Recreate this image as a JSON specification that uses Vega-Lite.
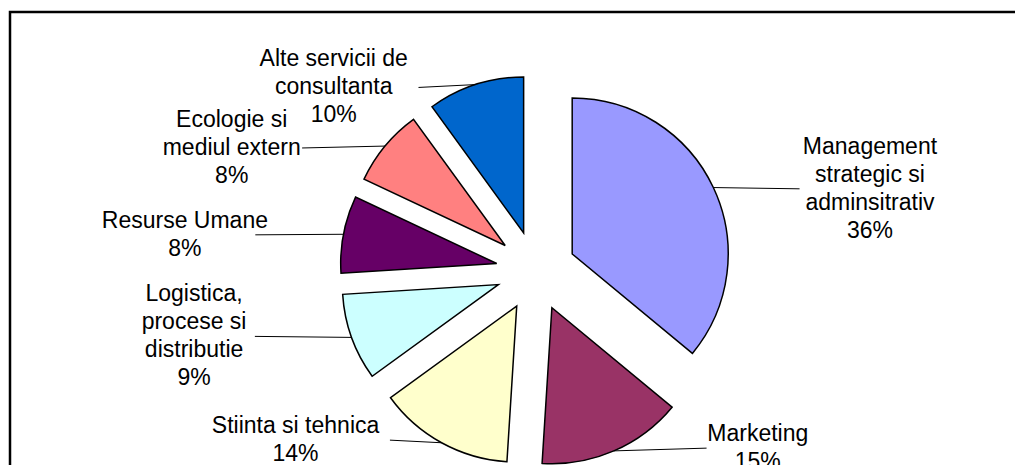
{
  "$schema": "https://vega.github.io/schema/vega-lite/v6.json",
  "width": 1045,
  "height": 493,
  "autosize": {"type": "none"},
  "padding": {"left": 10, "top": 12, "right": -40, "bottom": -40},
  "background": "white",
  "config": {
    "view": {"stroke": "black", "strokeWidth": 2.5},
    "text": {"font": "Liberation Sans"}
  },
  "data": {
    "values": [
      {"k": 1, "cat": "Management\nstrategic si\nadminsitrativ", "pct": 36},
      {"k": 2, "cat": "Marketing", "pct": 15},
      {"k": 3, "cat": "Stiinta si tehnica", "pct": 14},
      {"k": 4, "cat": "Logistica,\nprocese si\ndistributie", "pct": 9},
      {"k": 5, "cat": "Resurse Umane", "pct": 8},
      {"k": 6, "cat": "Ecologie si\nmediul extern", "pct": 8},
      {"k": 7, "cat": "Alte servicii de\nconsultanta", "pct": 10}
    ]
  },
  "transform": [
    {"stack": "pct", "groupby": [], "sort": [{"field": "k", "order": "ascending"}], "as": ["v0", "v1"]},
    {"calculate": "PI * (datum.v0 + datum.v1) / 100", "as": "mid"},
    {"calculate": "sin(datum.mid)", "as": "s"},
    {"calculate": "cos(datum.mid)", "as": "c"},
    {"calculate": "40 * datum.s", "as": "ex"},
    {"calculate": "-40 * datum.c", "as": "ey"},
    {"calculate": "(datum.s > 0 ? 134 : -134) + 221 * datum.s", "as": "lx"},
    {"calculate": "-193 * datum.c", "as": "ly"},
    {"calculate": "196 * datum.s", "as": "p1x"},
    {"calculate": "-196 * datum.c", "as": "p1y"},
    {"calculate": "split(datum.cat, '\\n')", "as": "lines"},
    {"calculate": "datum.ly - length(datum.lines) * 14", "as": "ty"},
    {"calculate": "max(length(datum.lines[0]), length(datum.lines[1] || ''), length(datum.lines[2] || ''))", "as": "nch"},
    {"calculate": "datum.lx - (datum.s > 0 ? 1 : -1) * (datum.nch * 4.8 + 8)", "as": "p2x"},
    {"calculate": "datum.ly", "as": "p2y"},
    {"calculate": "datum.cat + '\\n' + datum.pct + '%'", "as": "lbl"}
  ],
  "layer": [
    {
      "mark": {"type": "arc", "outerRadius": 156, "stroke": "black", "strokeWidth": 1.5},
      "encoding": {
        "theta": {"field": "v0", "type": "quantitative", "stack": null, "scale": {"domain": [0, 100], "range": [0, 6.283185307179586]}},
        "theta2": {"field": "v1"},
        "x": {"field": "ex", "type": "quantitative", "stack": null, "axis": null, "scale": {"domain": [-526, 519], "nice": false, "zero": false}},
        "y": {"field": "ey", "type": "quantitative", "stack": null, "axis": null, "scale": {"domain": [-259, 234], "nice": false, "zero": false, "reverse": true}},
        "color": {
          "field": "cat", "type": "nominal", "legend": null,
          "scale": {
            "domain": ["Management\nstrategic si\nadminsitrativ", "Marketing", "Stiinta si tehnica", "Logistica,\nprocese si\ndistributie", "Resurse Umane", "Ecologie si\nmediul extern", "Alte servicii de\nconsultanta"],
            "range": ["#9999FF", "#993366", "#FFFFCC", "#CCFFFF", "#660066", "#FF8080", "#0066CC"]
          }
        }
      }
    },
    {
      "mark": {"type": "rule", "color": "black", "strokeWidth": 1},
      "encoding": {
        "x": {"field": "p1x", "type": "quantitative", "stack": null, "axis": null, "scale": {"domain": [-526, 519], "nice": false, "zero": false}},
        "y": {"field": "p1y", "type": "quantitative", "stack": null, "axis": null, "scale": {"domain": [-259, 234], "nice": false, "zero": false, "reverse": true}},
        "x2": {"field": "p2x"},
        "y2": {"field": "p2y"}
      }
    },
    {
      "mark": {"type": "text", "fontSize": 23, "lineHeight": 28, "lineBreak": "\n", "align": "center", "baseline": "middle", "color": "black", "font": "Liberation Sans"},
      "encoding": {
        "x": {"field": "lx", "type": "quantitative", "stack": null, "axis": null, "scale": {"domain": [-526, 519], "nice": false, "zero": false}},
        "y": {"field": "ty", "type": "quantitative", "stack": null, "axis": null, "scale": {"domain": [-259, 234], "nice": false, "zero": false, "reverse": true}},
        "text": {"field": "lbl"}
      }
    }
  ]
}
